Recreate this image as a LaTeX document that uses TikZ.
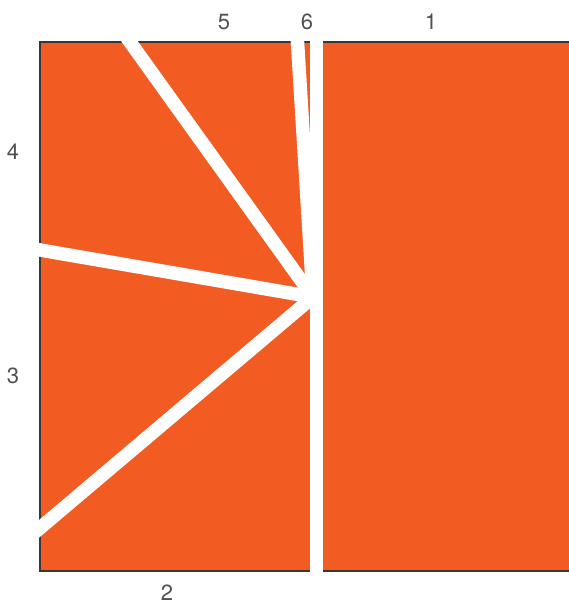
\documentclass[tikz,border=0pt]{standalone}
\usepackage{fontspec}
\setmainfont{TeX Gyre Heros}
\usetikzlibrary{calc}
\definecolor{panelorange}{RGB}{242,91,34}
\definecolor{edgegray}{RGB}{55,55,55}
\definecolor{labelgray}{RGB}{80,80,80}
\tikzset{
    panel/.style = {fill=panelorange},
    edge/.style  = {draw=edgegray, line width=1.2pt},
    cut/.style   = {draw=white, line width=13.5pt},
    spine/.style = {draw=white, line width=13pt},
    tag/.style   = {font=\fontsize{22}{22}\selectfont, text=labelgray,
                    inner sep=0pt}
}
\def\panelleft{40}
\def\paneltop{42}
\def\panelright{569}
\def\panelbottom{571}

\begin{document}
\begin{tikzpicture}[x=1pt,y=-1pt]
\useasboundingbox (0,0) rectangle (569,607);

% Orange panel, outlined on three sides.
\fill[panel] (\panelleft,\paneltop) rectangle (\panelright,\panelbottom);
\draw[edge] (\panelright,\paneltop) -- (\panelleft,\paneltop)
    -- (\panelleft,\panelbottom) -- (\panelright,\panelbottom);

% White cuts meeting at one point on the spine.
\coordinate (hub)   at (313,297);
\coordinate (cut5)  at (130,\paneltop);
\coordinate (cut6)  at (297.5,\paneltop);
\coordinate (cut4)  at (\panelleft,250);
\coordinate (cut3)  at (\panelleft,528);
\coordinate (spinetop) at (316,\paneltop);
\coordinate (spinebot) at (316,\panelbottom);
\begin{scope}
    \clip (\panelleft-1,\paneltop-1) rectangle (\panelright,\panelbottom+1);
    \draw[spine] ($(spinetop)+(0,-5)$) -- ($(spinebot)+(0,5)$);
    \draw[cut] ($(cut5)!-15pt!(hub)$) -- (hub);
    \draw[cut] ($(cut6)!-15pt!(hub)$) -- (hub);
    \draw[cut] ($(cut4)!-15pt!(hub)$) -- (hub);
    \draw[cut] ($(cut3)!-15pt!(hub)$) -- (hub);
\end{scope}

% Region numbers.
\node[tag] (tag1) at (431,22)  {1};
\node[tag] (tag2) at (167,593) {2};
\node[tag] (tag3) at (13,376)  {3};
\node[tag] (tag4) at (13,152)  {4};
\node[tag] (tag5) at (224,22)  {5};
\node[tag] (tag6) at (307,22)  {6};

\end{tikzpicture}
\end{document}
